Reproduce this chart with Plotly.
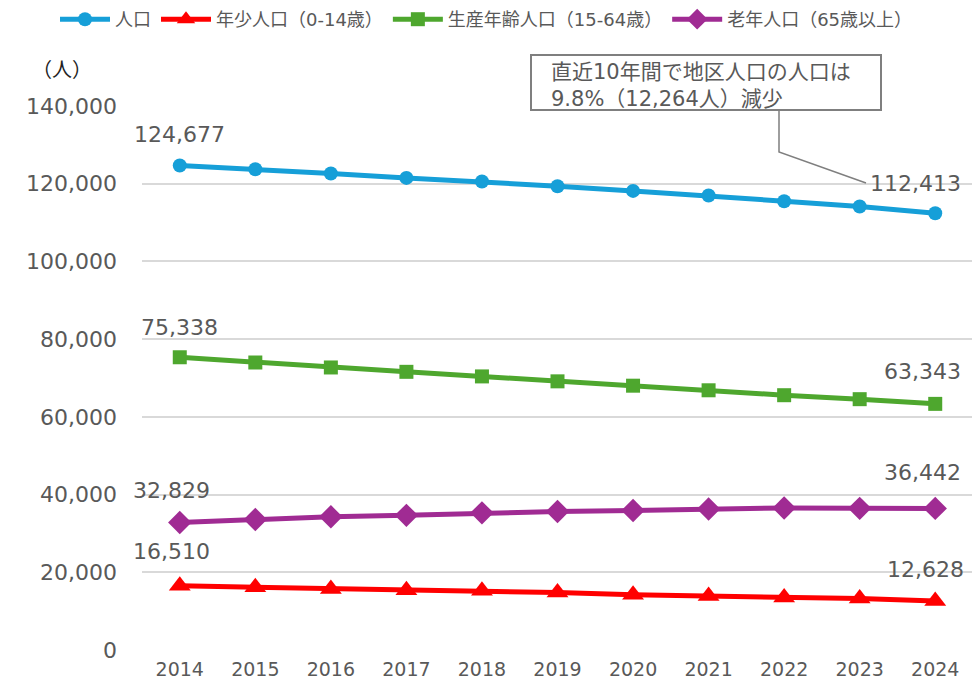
import plotly.graph_objects as go

years = [2014, 2015, 2016, 2017, 2018, 2019, 2020, 2021, 2022, 2023, 2024]
total = [124677, 123730, 122620, 121490, 120570, 119360, 118150, 116970, 115500, 114140, 112413]
youth = [16510, 16170, 15730, 15390, 15220, 14780, 14190, 13920, 13490, 13230, 12628]
working = [75338, 73990, 72710, 71590, 70410, 69140, 68020, 66840, 65570, 64550, 63343]
elderly = [32829, 33600, 34300, 34650, 35300, 35650, 35900, 36300, 36550, 36450, 36442]

names = ["人口", "年少人口（0-14歳）", "生産年齢人口（15-64歳）", "老年人口（65歳以上）"]
colors = ["#169FD8", "#FF0000", "#4EA72E", "#A02B93"]
symbols = ["circle", "triangle-up", "square", "diamond"]
sizes = [14, 19, 14, 18]
series = [total, youth, working, elderly]

y_ticks = [0, 20000, 40000, 60000, 80000, 100000, 120000, 140000]
y_tick_labels = ["0", "20,000", "40,000", "60,000", "80,000", "100,000", "120,000", "140,000"]

FONT = "DejaVu Sans, Noto Sans CJK JP"
TXT = "#595959"

fig = go.Figure()
for name, col, sym, sz, vals in zip(names, colors, symbols, sizes, series):
    fig.add_trace(go.Scatter(
        x=years, y=vals, name=name, mode="lines+markers",
        line=dict(color=col, width=5),
        marker=dict(symbol=sym, size=sz, color=col),
    ))

# end-point data labels: (series, index, xshift, yshift)
label_specs = [
    (total, 0, 0, 31),
    (total, 10, -20, 30),
    (working, 0, 0, 30),
    (working, 10, -13, 32),
    (elderly, 0, -8, 32),
    (elderly, 10, -13, 36),
    (youth, 0, -8, 34),
    (youth, 10, -10, 31),
]
for vals, i, xs, ys in label_specs:
    fig.add_annotation(x=years[i], y=vals[i], text=f"{vals[i]:,}", showarrow=False,
                       xshift=xs, yshift=ys, font=dict(family=FONT, size=22, color=TXT))

# callout box
fig.add_shape(type="rect", xref="paper", yref="paper",
              x0=(531-142)/831, x1=(881-142)/831, y0=(650-110)/544, y1=(650-55)/544,
              line=dict(color="#7F7F7F", width=2), fillcolor="white", layer="above")
fig.add_shape(type="path", xref="paper", yref="paper",
              path=f"M {(779-142)/831} {(650-110)/544} L {(779-142)/831} {(650-152)/544} L {(866-142)/831} {(650-183)/544}",
              line=dict(color="#7F7F7F", width=1.5))
fig.add_annotation(xref="paper", yref="paper", x=(549-142)/831, y=(650-85)/544,
                   xanchor="left", yanchor="middle", align="left", showarrow=False,
                   text="直近10年間で地区人口の人口は<br>9.8%（12,264人）減少",
                   font=dict(family=FONT, size=21, color=TXT))

fig.add_annotation(xref="paper", yref="paper", x=(30-142)/831, y=(650-68)/544,
                   xanchor="left", yanchor="middle", showarrow=False, text="（人）",
                   font=dict(family="Noto Sans CJK JP", size=20, color="#222222"))

fig.update_layout(
    width=980, height=680,
    margin=dict(l=134, r=15, t=98, b=38, autoexpand=False),
    plot_bgcolor="white", paper_bgcolor="white",
    font=dict(family=FONT, color=TXT),
    legend=dict(orientation="h", xref="paper", yref="paper",
                x=(55-142)/831, xanchor="left", y=(650-1)/544, yanchor="top",
                font=dict(family=FONT, size=18, color=TXT), itemwidth=50,
                tracegroupgap=0),
    xaxis=dict(range=[2013.5, 2024.5], tickmode="array", tickvals=years,
               ticktext=[str(y) for y in years], showgrid=False, zeroline=False,
               showline=False, ticks="", ticklabelstandoff=6,
               tickfont=dict(family=FONT, size=19, color=TXT)),
    yaxis=dict(range=[0, 140000], tickmode="array", tickvals=y_ticks, ticktext=y_tick_labels,
               showgrid=True, gridcolor="#D9D9D9", gridwidth=2, zeroline=False,
               showline=False, ticks="", ticklabelstandoff=24,
               tickfont=dict(family=FONT, size=22, color=TXT)),
)

fig.write_html("out.html")
